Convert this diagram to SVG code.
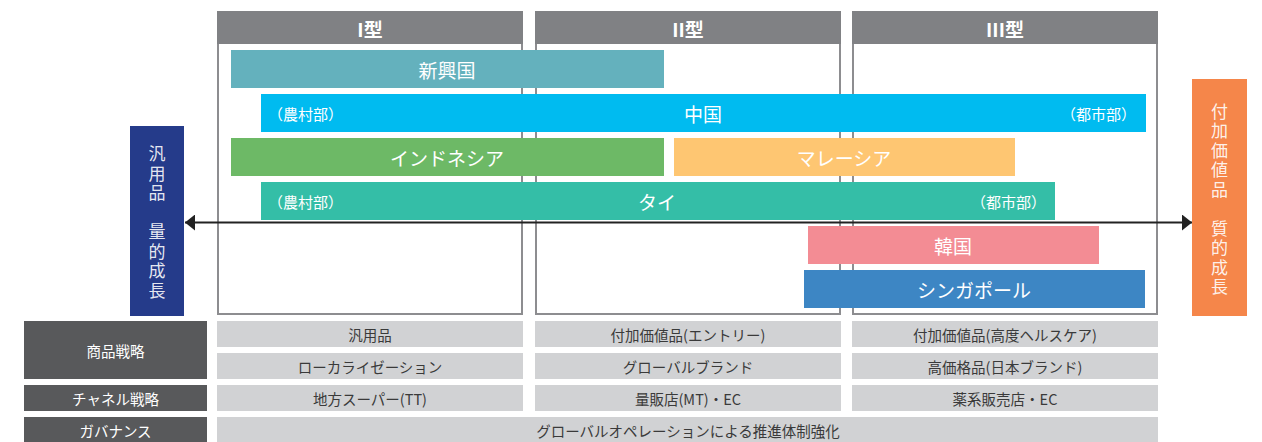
<svg xmlns="http://www.w3.org/2000/svg" width="1262" height="442" viewBox="0 0 1262 442">
<style>
text{font-family:"Noto Sans CJK JP","Noto Sans",sans-serif}
.frame{fill:#fff;stroke:#8d8d90;stroke-width:2}
.hdr{fill:#808184}
.htx{fill:#fff;font-size:19px;font-weight:bold;text-anchor:middle;dominant-baseline:central}
.btx{fill:#fff;font-size:19px;text-anchor:middle;dominant-baseline:central}
.sub{fill:#fff;font-size:15px;dominant-baseline:central}
.vtx{fill:#fff;fill-opacity:.9;font-size:17px;letter-spacing:2.5px;writing-mode:vertical-rl}
.lab{fill:#58595b}
.ltx{fill:#fff;font-size:14.5px;text-anchor:middle;dominant-baseline:central}
.cell{fill:#d1d2d4}
.ctx{fill:#3a3a3a;font-size:14.5px;text-anchor:middle;dominant-baseline:central}
</style>
<defs>
<marker id="ah" viewBox="0 0 10 16" refX="10" refY="8" markerWidth="10" markerHeight="16" markerUnits="userSpaceOnUse" orient="auto-start-reverse">
<path d="M0,0 L10,8 L0,16 Z" fill="#222"/>
</marker>
</defs>

<g id="type1">
<rect class="frame" x="218" y="12" width="304" height="302"/>
<rect class="hdr" x="217" y="11" width="306" height="33"/>
<text class="htx" x="370" y="28">I型</text>
</g>
<g id="type2">
<rect class="frame" x="536" y="12" width="304" height="302"/>
<rect class="hdr" x="535" y="11" width="306" height="33"/>
<text class="htx" x="688" y="28">II型</text>
</g>
<g id="type3">
<rect class="frame" x="853" y="12" width="304" height="302"/>
<rect class="hdr" x="852" y="11" width="306" height="33"/>
<text class="htx" x="1005" y="28">III型</text>
</g>

<g id="emerging">
<rect x="231" y="50" width="433" height="38" fill="#64b1bd"/>
<text class="btx" x="447" y="69">新興国</text>
</g>
<g id="china">
<rect x="261" y="94" width="885" height="38" fill="#00bbf0"/>
<text class="sub" x="268" y="113">（農村部）</text>
<text class="btx" x="703" y="113">中国</text>
<text class="sub" x="1136" y="113" text-anchor="end">（都市部）</text>
</g>
<g id="indonesia">
<rect x="231" y="138" width="433" height="38" fill="#6db966"/>
<text class="btx" x="447" y="157">インドネシア</text>
</g>
<g id="malaysia">
<rect x="674" y="138" width="341" height="38" fill="#fec672"/>
<text class="btx" x="844" y="157">マレーシア</text>
</g>
<g id="thailand">
<rect x="261" y="182" width="794" height="38" fill="#34bea7"/>
<text class="sub" x="268" y="201">（農村部）</text>
<text class="btx" x="657" y="201">タイ</text>
<text class="sub" x="1046" y="201" text-anchor="end">（都市部）</text>
</g>
<g id="korea">
<rect x="808" y="226" width="291" height="38" fill="#f38c94"/>
<text class="btx" x="953" y="245">韓国</text>
</g>
<g id="singapore">
<rect x="804" y="270" width="341" height="38" fill="#3d86c4"/>
<text class="btx" x="974" y="289">シンガポール</text>
</g>

<g id="left-pole">
<rect x="130" y="126" width="54" height="190" fill="#253b8a"/>
<text class="vtx" x="157" y="145.5">汎用品　量的成長</text>
</g>
<g id="right-pole">
<rect x="1192" y="79" width="55" height="237" fill="#f5864a"/>
<text class="vtx" x="1219.5" y="103">付加価値品　質的成長</text>
</g>

<g id="connectors">
<line x1="185" y1="222.5" x2="1192" y2="222.5" stroke="#222" stroke-width="2" marker-start="url(#ah)" marker-end="url(#ah)"/>
</g>

<g id="row-product">
<rect class="lab" x="24" y="321" width="183" height="58"/>
<text class="ltx" x="115.5" y="350">商品戦略</text>
<rect class="cell" x="217" y="321" width="306" height="26"/>
<text class="ctx" x="370" y="334">汎用品</text>
<rect class="cell" x="535" y="321" width="306" height="26"/>
<text class="ctx" x="688" y="334">付加価値品(エントリー)</text>
<rect class="cell" x="852" y="321" width="306" height="26"/>
<text class="ctx" x="1005" y="334">付加価値品(高度ヘルスケア)</text>
<rect class="cell" x="217" y="353" width="306" height="26"/>
<text class="ctx" x="370" y="366">ローカライゼーション</text>
<rect class="cell" x="535" y="353" width="306" height="26"/>
<text class="ctx" x="688" y="366">グローバルブランド</text>
<rect class="cell" x="852" y="353" width="306" height="26"/>
<text class="ctx" x="1005" y="366">高価格品(日本ブランド)</text>
</g>
<g id="row-channel">
<rect class="lab" x="24" y="385" width="183" height="26"/>
<text class="ltx" x="115.5" y="398">チャネル戦略</text>
<rect class="cell" x="217" y="385" width="306" height="26"/>
<text class="ctx" x="370" y="398">地方スーパー(TT)</text>
<rect class="cell" x="535" y="385" width="306" height="26"/>
<text class="ctx" x="688" y="398">量販店(MT)・EC</text>
<rect class="cell" x="852" y="385" width="306" height="26"/>
<text class="ctx" x="1005" y="398">薬系販売店・EC</text>
</g>
<g id="row-governance">
<rect class="lab" x="24" y="417" width="183" height="26"/>
<text class="ltx" x="115.5" y="430">ガバナンス</text>
<rect class="cell" x="217" y="417" width="941" height="26"/>
<text class="ctx" x="688" y="430">グローバルオペレーションによる推進体制強化</text>
</g>
</svg>
